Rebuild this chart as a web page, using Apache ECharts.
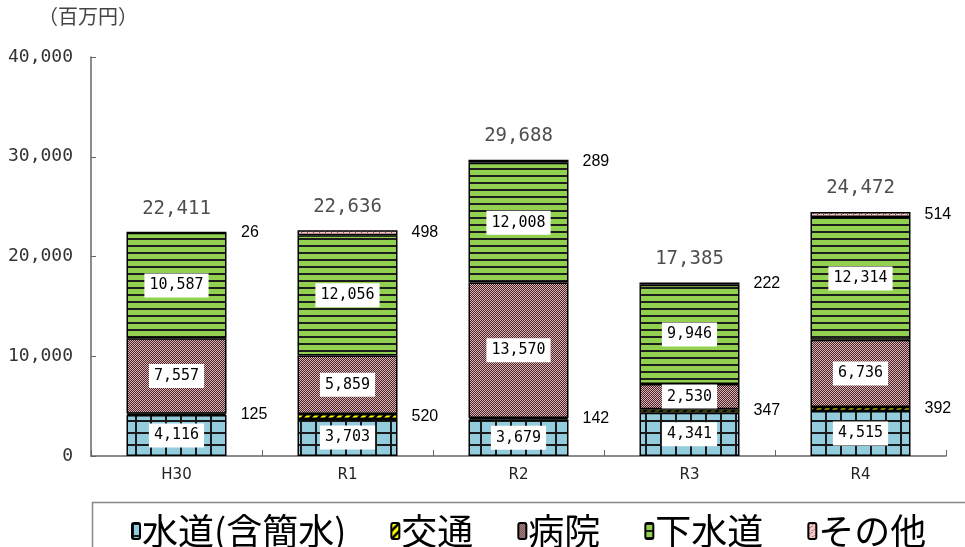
<!DOCTYPE html>
<html>
<head>
<meta charset="utf-8">
<script src="https://cdn.jsdelivr.net/npm/echarts@6/dist/echarts.min.js"></script>
<style>
  html, body { margin: 0; padding: 0; background: #fff; }
  #chart { width: 965px; height: 547px; }
</style>
</head>
<body>
<div id="chart"></div>
<script>
// 会計別の決算額（百万円）
const years = ['H30', 'R1', 'R2', 'R3', 'R4'];
const water = [4116, 3703, 3679, 4341, 4515];        // 水道(含簡水)
const transport = [125, 520, 142, 347, 392];         // 交通
const hospital = [7557, 5859, 13570, 2530, 6736];    // 病院
const sewer = [10587, 12056, 12008, 9946, 12314];    // 下水道
const others = [26, 498, 289, 222, 514];             // その他
const totals = [22411, 22636, 29688, 17385, 24472];  // 合計
const yTicks = [0, 10000, 20000, 30000, 40000];

// Hatched fills drawn on small canvases and tiled by ECharts
function makePattern(w, h, draw) {
  const c = document.createElement('canvas');
  c.width = w; c.height = h;
  draw(c.getContext('2d'), w, h);
  return { image: c, repeat: 'repeat' };
}
const waterFill = makePattern(15, 12, (g, w, h) => {
  g.fillStyle = '#93CDDD'; g.fillRect(0, 0, w, h);
  g.fillStyle = '#1a1a1a';
  g.fillRect(0, 0, 2, h); g.fillRect(0, 0, w, 2);
});
const transportFill = makePattern(8, 8, (g, w, h) => {
  g.fillStyle = '#FFFF00'; g.fillRect(0, 0, w, h);
  g.strokeStyle = '#000'; g.lineWidth = 2.5;
  g.beginPath();
  g.moveTo(-2, h + 2); g.lineTo(w + 2, -2);
  g.moveTo(-2, 2); g.lineTo(2, -2);
  g.moveTo(w - 2, h + 2); g.lineTo(w + 2, h - 2);
  g.stroke();
});
const hospitalFill = makePattern(2, 2, (g, w, h) => {
  g.fillStyle = '#3f2b2b'; g.fillRect(0, 0, w, h);
  g.fillStyle = '#E6AEB2'; g.fillRect(0, 0, 1, 1); g.fillRect(1, 1, 1, 1);
});
const sewerFill = makePattern(4, 7, (g, w, h) => {
  g.fillStyle = '#92D050'; g.fillRect(0, 0, w, h);
  g.fillStyle = '#1e1e1e'; g.fillRect(0, 0, w, 2);
});
const othersFill = makePattern(6, 6, (g, w, h) => {
  g.fillStyle = '#F4C6C6'; g.fillRect(0, 0, w, h);
  g.fillStyle = '#7a4a4a';
  g.fillRect(0, 0, 1, 1); g.fillRect(3, 3, 1, 1); g.fillRect(1, 4, 1, 1); g.fillRect(4, 1, 1, 1);
});

const fmt = v => v.toLocaleString('en-US');
const mono = '"DejaVu Sans Mono", monospace';

const insideLabel = {
  show: true,
  position: 'inside',
  formatter: p => fmt(p.value),
  fontFamily: mono,
  fontSize: 15,
  color: '#000',
  backgroundColor: '#fff',
  padding: [5, 5, 4, 5]
};
const sideLabel = {
  show: true,
  position: 'right',
  distance: 14,
  formatter: p => fmt(p.value),
  fontFamily: '"Liberation Sans Narrow", "Liberation Sans", sans-serif',
  fontSize: 16,
  color: '#000'
};

function barSeries(name, values, fill, label) {
  return {
    name: name,
    type: 'bar',
    stack: 'total',
    barWidth: 100,
    data: values,
    itemStyle: { color: fill, borderColor: '#000', borderWidth: 1.5 },
    label: label,
    emphasis: { disabled: true }
  };
}

const chart = echarts.init(document.getElementById('chart'), null, { renderer: 'canvas' });
chart.setOption({
  animation: false,
  grid: { left: 91, right: 19, top: 57, bottom: 91 },
  xAxis: {
    type: 'category',
    data: years,
    axisLine: { lineStyle: { color: '#666', width: 1.5 } },
    axisTick: { show: true, inside: true, length: 6, lineStyle: { color: '#666' } },
    axisLabel: { fontFamily: '"DejaVu Sans", sans-serif', fontSize: 15, color: '#222', margin: 12 }
  },
  yAxis: {
    type: 'value',
    min: yTicks[0],
    max: yTicks[yTicks.length - 1],
    interval: yTicks[1] - yTicks[0],
    splitLine: { show: false },
    axisLine: { show: true, lineStyle: { color: '#666', width: 1.5 } },
    axisTick: { show: true, inside: true, length: 5, lineStyle: { color: '#666' } },
    axisLabel: { fontFamily: mono, fontSize: 18, color: '#333', margin: 18, formatter: v => fmt(v) }
  },
  legend: {
    left: 126,
    top: 508,
    itemWidth: 8,
    itemHeight: 16,
    itemGap: 44,
    selectedMode: false,
    textStyle: { fontFamily: '"Noto Sans CJK JP", sans-serif', fontSize: 36, color: '#000', padding: [0, 0, 0, -3] },
    data: ['水道(含簡水)', '交通', '病院', '下水道', 'その他']
  },
  graphic: [
    {
      type: 'rect',
      left: 90, top: 500,
      shape: { width: 900, height: 60 },
      style: { fill: 'none', stroke: '#888', lineWidth: 1.5 },
      z: -1
    },
    {
      type: 'text',
      left: 38, top: 6,
      style: { text: '（百万円）', font: '20px "Noto Sans CJK JP", sans-serif', fill: '#444' }
    }
  ],
  series: [
    barSeries('水道(含簡水)', water, waterFill, insideLabel),
    barSeries('交通', transport, transportFill, sideLabel),
    barSeries('病院', hospital, hospitalFill, insideLabel),
    barSeries('下水道', sewer, sewerFill, insideLabel),
    barSeries('その他', others, othersFill, sideLabel),
    {
      name: '合計',
      type: 'scatter',
      data: totals,
      symbolSize: 0,
      silent: true,
      label: {
        show: true,
        position: 'top',
        distance: 14,
        formatter: p => fmt(p.value),
        fontFamily: mono,
        fontSize: 19,
        color: '#222'
      }
    }
  ]
});
</script>
</body>
</html>
